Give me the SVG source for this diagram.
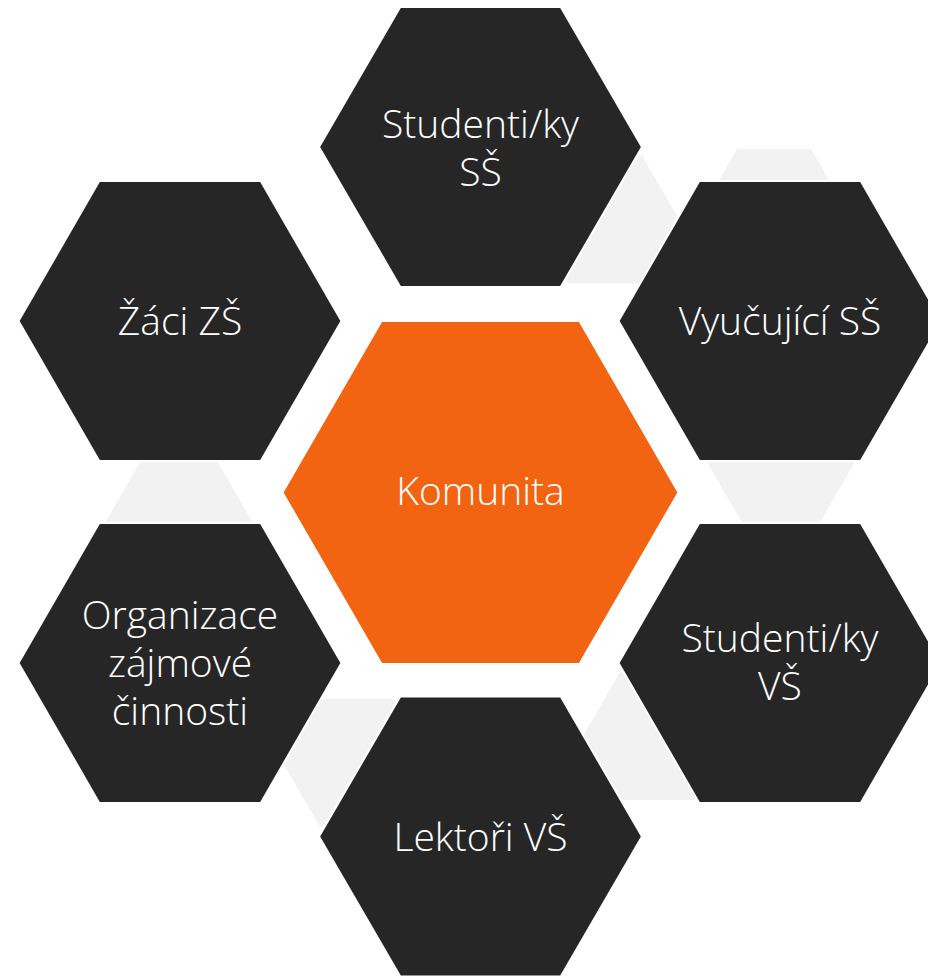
<svg xmlns="http://www.w3.org/2000/svg" width="928" height="976" viewBox="0 0 928 976">
<style>
.g{fill:#F2F2F2;stroke:none}
.d{fill:#262626;stroke:#FFFFFF;stroke-width:2}
.o{fill:#F26411;stroke:#FFFFFF;stroke-width:2}
text{font-family:"Open Sans","Noto Sans","DejaVu Sans",sans-serif;font-size:39px;font-weight:300;fill:#FFFFFF;text-anchor:middle}
</style>
<rect width="928" height="976" fill="#FFFFFF"/>
<g id="connectors">
<polygon class="g" points="531,219.5 568,155.4 642,155.4 679,219.5 642,283.6 568,283.6"/>
<polygon class="g" points="700,213 737,148.9 811,148.9 848,213 811,277.1 737,277.1"/>
<polygon class="g" points="707,462 744,397.9 818,397.9 855,462 818,526.1 744,526.1"/>
<polygon class="g" points="105,523 142,458.9 216,458.9 253,523 216,587.1 142,587.1"/>
<polygon class="g" points="283,763 320,698.9 394,698.9 431,763 394,827.1 320,827.1"/>
<polygon class="g" points="583,736 620,671.9 694,671.9 731,736 694,800.1 620,800.1"/>
</g>
<g id="node-center">
<polygon class="o" points="282.5,492.5 381.5,321 579.5,321 678.5,492.5 579.5,664 381.5,664"/>
<text x="480.5" y="505">Komunita</text>
</g>
<g id="node-top">
<polygon class="d" points="319,147 400.25,7.1 560.75,7.1 642,147 560.75,286.9 400.25,286.9"/>
<text x="480.5" y="138">Studenti/ky</text>
<text x="480.5" y="186">SŠ</text>
</g>
<g id="node-ul">
<polygon class="d" points="18.5,321 99.25,181.1 260.75,181.1 341.5,321 260.75,460.9 99.25,460.9"/>
<text x="180" y="335">Žáci ZŠ</text>
</g>
<g id="node-ur">
<polygon class="d" points="618.5,321 699.25,181.1 860.75,181.1 941.5,321 860.75,460.9 699.25,460.9"/>
<text x="780" y="335">Vyučující SŠ</text>
</g>
<g id="node-ll">
<polygon class="d" points="18.5,663 99.25,523.1 260.75,523.1 341.5,663 260.75,802.9 99.25,802.9"/>
<text x="180" y="629">Organizace</text>
<text x="180" y="677">zájmové</text>
<text x="180" y="725">činnosti</text>
</g>
<g id="node-lr">
<polygon class="d" points="618.5,663 699.25,523.1 860.75,523.1 941.5,663 860.75,802.9 699.25,802.9"/>
<text x="780" y="652">Studenti/ky</text>
<text x="780" y="700">VŠ</text>
</g>
<g id="node-bottom">
<polygon class="d" points="319,836.5 400.25,696.6 560.75,696.6 642,836.5 560.75,976.4 400.25,976.4"/>
<text x="480.5" y="851">Lektoři VŠ</text>
</g>
</svg>
